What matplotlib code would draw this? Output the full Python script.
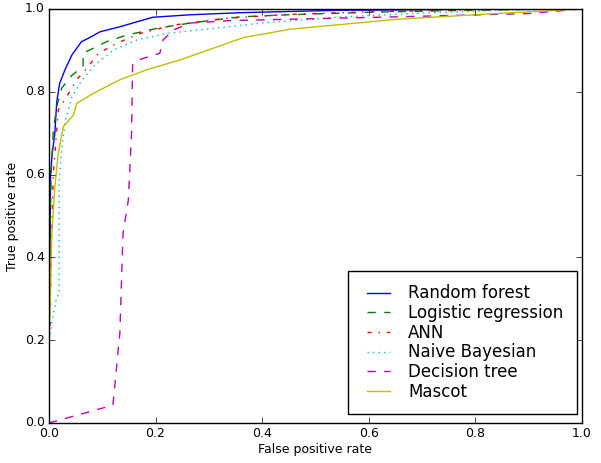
import matplotlib
matplotlib.use("Agg")
import matplotlib.pyplot as plt

# ROC curves (false positive rate, true positive rate)
rf_fpr = [0.0, 0.0, 0.002, 0.003, 0.006, 0.011, 0.0145, 0.02, 0.03, 0.043, 0.061,
          0.075, 0.096, 0.133, 0.165, 0.195, 0.265, 0.358, 0.45, 0.55, 0.7, 0.85, 1.0]
rf_tpr = [0.0, 0.3, 0.45, 0.6, 0.65, 0.7, 0.775, 0.82, 0.853, 0.889, 0.921,
          0.93, 0.945, 0.957, 0.969, 0.98, 0.986, 0.991, 0.994, 0.997, 0.998, 1.0, 1.0]

lr_fpr = [0.0, 0.0, 0.002, 0.004, 0.008, 0.0145, 0.024, 0.043, 0.064, 0.064, 0.108,
          0.146, 0.202, 0.265, 0.358, 0.45, 0.6, 0.75, 0.9, 1.0]
lr_tpr = [0.0, 0.25, 0.45, 0.6, 0.704, 0.764, 0.809, 0.84, 0.86, 0.893, 0.921,
          0.937, 0.953, 0.966, 0.981, 0.986, 0.992, 0.996, 0.999, 1.0]

ann_fpr = [0.0, 0.0, 0.002, 0.004, 0.008, 0.0175, 0.033, 0.052, 0.071, 0.093, 0.127,
           0.171, 0.233, 0.327, 0.45, 0.6, 0.75, 0.9, 1.0]
ann_tpr = [0.0, 0.2, 0.22, 0.4, 0.6, 0.756, 0.788, 0.829, 0.857, 0.893, 0.917,
           0.941, 0.961, 0.977, 0.987, 0.993, 0.997, 0.999, 1.0]

nb_fpr = [0.0, 0.0, 0.005, 0.0145, 0.019, 0.019, 0.021, 0.024, 0.03, 0.043, 0.058,
          0.083, 0.121, 0.165, 0.221, 0.308, 0.4, 0.55, 0.7, 0.85, 1.0]
nb_tpr = [0.0, 0.2, 0.24, 0.305, 0.31, 0.587, 0.62, 0.66, 0.725, 0.788, 0.82,
          0.861, 0.901, 0.925, 0.941, 0.953, 0.966, 0.981, 0.99, 0.997, 1.0]

dt_fpr = [0.0, 0.12, 0.133, 0.139, 0.149, 0.155, 0.157, 0.168, 0.208, 0.214, 0.233,
          0.265, 0.34, 0.652, 0.9, 1.0]
dt_tpr = [0.0, 0.043, 0.217, 0.458, 0.539, 0.7, 0.865, 0.877, 0.893, 0.925, 0.949,
          0.966, 0.972, 0.981, 0.989, 1.0]

mascot_fpr = [0.0, 0.0, 0.002, 0.005, 0.011, 0.0175, 0.027, 0.046, 0.052, 0.083, 0.133,
              0.183, 0.246, 0.308, 0.365, 0.452, 0.652, 0.84, 1.0]
mascot_tpr = [0.0, 0.22, 0.265, 0.45, 0.571, 0.652, 0.716, 0.744, 0.772, 0.796, 0.829,
              0.853, 0.877, 0.905, 0.931, 0.951, 0.975, 0.989, 1.0]

# -------------------------------
# Plot
# -------------------------------
plt.style.use("classic")
fig = plt.figure(figsize=(6.01, 4.63), dpi=100, facecolor="white")
ax = fig.add_axes([0.0815, 0.0864, 0.8865, 0.8942])

ax.plot(rf_fpr, rf_tpr, "b-", lw=1.0, label="Random forest")
ax.plot(lr_fpr, lr_tpr, "g--", lw=1.0, label="Logistic regression")
ax.plot(ann_fpr, ann_tpr, "r-.", lw=1.0, label="ANN")
ax.plot(nb_fpr, nb_tpr, "c:", lw=1.0, label="Naive Bayesian")
ax.plot(dt_fpr, dt_tpr, "m--", lw=1.0, label="Decision tree")
ax.plot(mascot_fpr, mascot_tpr, "y-", lw=1.0, label="Mascot")

ax.set_xlim(0, 1)
ax.set_ylim(0, 1)
ax.set_xlabel("False positive rate", fontsize=9, labelpad=2)
ax.set_ylabel("True positive rate", fontsize=9, labelpad=4)
ax.tick_params(labelsize=9, pad=3)
ax.legend(loc="lower right", bbox_to_anchor=(0.9906, 0.0217), borderaxespad=0,
          fontsize=12, handlelength=2.0, handletextpad=0.8, labelspacing=0.1,
          borderpad=0.8)

fig.savefig("out.png", dpi=100, facecolor="white")
